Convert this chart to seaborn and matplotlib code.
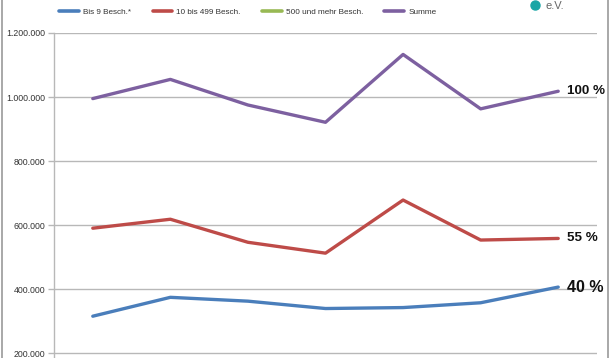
import numpy as np
import pandas as pd
import matplotlib
matplotlib.use('Agg')
import matplotlib.pyplot as plt
import seaborn as sns
from matplotlib.lines import Line2D

# values (x positions are just period indices)
periods = [1, 2, 3, 4, 5, 6, 7]
bis9 = [315000, 374000, 362000, 339000, 342000, 357000, 406000]
bis499 = [590000, 618000, 546000, 512000, 678000, 553000, 558000]
ab500 = [92000, 66000, 68000, 70000, 112000, 54000, 52000]
summe = [995000, 1055000, 975000, 921000, 1133000, 963000, 1018000]

series_names = ['Bis 9 Besch.*', '10 bis 499 Besch.', '500 und mehr Besch.', 'Summe']
colors = ['#4a7ebb', '#be4b48', '#98b954', '#7d60a0']
end_labels = ['40 %', '55 %', None, '100 %']
end_sizes = [11.5, 9.6, None, 9.6]

df = pd.DataFrame({'Periode': periods * 4,
                   'Wert': bis9 + bis499 + ab500 + summe,
                   'Gruppe': sum([[n] * len(periods) for n in series_names], [])})

sns.set_style('white')
plt.rcParams['font.family'] = ['Liberation Sans', 'DejaVu Sans']

fig = plt.figure(figsize=(6.1, 3.58), dpi=100)
ax = fig.add_axes([54 / 610, 0, (597 - 54) / 610, 325 / 358])

sns.lineplot(data=df, x='Periode', y='Wert', hue='Gruppe', hue_order=series_names,
             palette=colors, linewidth=2.4, ax=ax, legend=False)

ax.set_xlim(0.5, 7.5)
ax.set_ylim(184400, 1200000)
ax.set_yticks([200000, 400000, 600000, 800000, 1000000, 1200000])
ax.set_yticklabels(['200.000', '400.000', '600.000', '800.000', '1.000.000', '1.200.000'])
ax.set_xticks([])
ax.set_xlabel('')
ax.set_ylabel('')
ax.yaxis.grid(True, color='#b8b8b8', linewidth=1)
ax.tick_params(axis='y', length=4, width=1, color='#b8b8b8', labelsize=6.3,
               labelcolor='#333333', pad=2, left=True)
for s in ['top', 'right', 'bottom']:
    ax.spines[s].set_visible(False)
ax.spines['left'].set_color('#b8b8b8')
ax.spines['left'].set_linewidth(1)

# end-of-line share labels
vals = [bis9, bis499, ab500, summe]
for v, lab, fs in zip(vals, end_labels, end_sizes):
    if lab:
        ax.annotate(lab, xy=(periods[-1], v[-1]), xytext=(6.5, 0), textcoords='offset points',
                    ha='left', va='center', fontsize=fs, fontweight='bold', color='#111111',
                    annotation_clip=False)

handles = [Line2D([0], [0], color=c, linewidth=2.6) for c in colors]
fig.legend(handles, series_names, loc='center left', bbox_to_anchor=(52 / 610, 1 - 12 / 358),
           ncol=4, frameon=False, fontsize=5.9, handlelength=2.4, handletextpad=0.5,
           columnspacing=2.6, labelcolor='#333333')

# logo remnant top right
fig.add_artist(Line2D([535 / 610], [1 - 5 / 358], marker='o', markersize=6.5,
                      color='#1aa6a6', linestyle='none'))
fig.text(546 / 610, 1 - 6 / 358, 'e.V.', fontsize=8, color='#666666', va='center', ha='left')

# frame edges of the cut-out
fig.add_artist(Line2D([2 / 610, 2 / 610], [0, 1], color='#999999', linewidth=1.2))
fig.add_artist(Line2D([608 / 610, 608 / 610], [0, 1], color='#999999', linewidth=1.2))

fig.savefig('out.png', dpi=100)
